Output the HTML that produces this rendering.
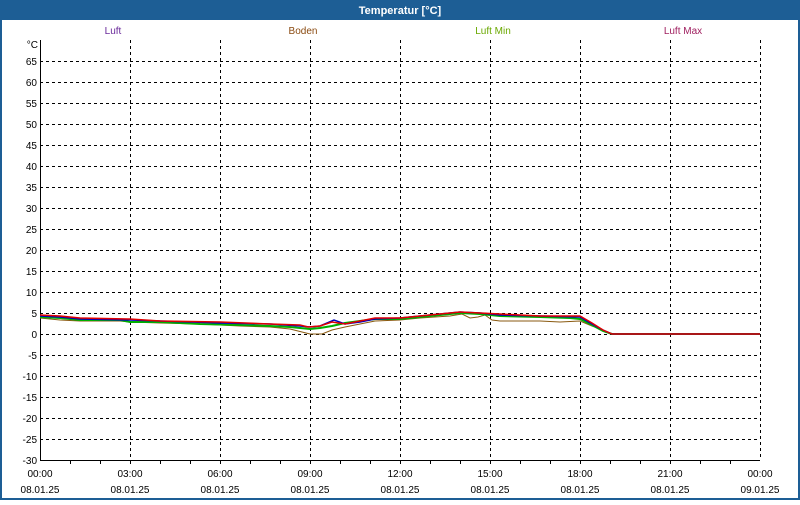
<!DOCTYPE html>
<html><head><meta charset="utf-8"><style>
body{margin:0;width:800px;height:500px;overflow:hidden;background:#fff;font-family:"Liberation Sans",sans-serif}
</style></head><body>
<svg width="800" height="500" xmlns="http://www.w3.org/2000/svg" font-family="Liberation Sans, sans-serif" font-size="10">
<rect x="0" y="0" width="800" height="500" fill="#1d5e95"/>
<rect x="2" y="20" width="796" height="478" fill="#fff"/>
<text x="400" y="14" fill="#fff" font-weight="bold" font-size="11" text-anchor="middle">Temperatur [°C]</text>
<text x="113" y="34" fill="#6a2a9a" text-anchor="middle">Luft</text>
<text x="303" y="34" fill="#8a4a10" text-anchor="middle">Boden</text>
<text x="493" y="34" fill="#6aa800" text-anchor="middle">Luft Min</text>
<text x="683" y="34" fill="#a02060" text-anchor="middle">Luft Max</text>
<g stroke="#000" stroke-dasharray="3,3" stroke-width="1">
<line x1="40" x2="760" y1="61.5" y2="61.5"/><line x1="40" x2="760" y1="82.5" y2="82.5"/><line x1="40" x2="760" y1="103.5" y2="103.5"/><line x1="40" x2="760" y1="124.5" y2="124.5"/><line x1="40" x2="760" y1="145.5" y2="145.5"/><line x1="40" x2="760" y1="166.5" y2="166.5"/><line x1="40" x2="760" y1="187.5" y2="187.5"/><line x1="40" x2="760" y1="208.5" y2="208.5"/><line x1="40" x2="760" y1="229.5" y2="229.5"/><line x1="40" x2="760" y1="250.5" y2="250.5"/><line x1="40" x2="760" y1="271.5" y2="271.5"/><line x1="40" x2="760" y1="292.5" y2="292.5"/><line x1="40" x2="760" y1="313.5" y2="313.5"/><line x1="40" x2="760" y1="334.5" y2="334.5"/><line x1="40" x2="760" y1="355.5" y2="355.5"/><line x1="40" x2="760" y1="376.5" y2="376.5"/><line x1="40" x2="760" y1="397.5" y2="397.5"/><line x1="40" x2="760" y1="418.5" y2="418.5"/><line x1="40" x2="760" y1="439.5" y2="439.5"/>
<line x1="130.5" x2="130.5" y1="40" y2="460"/><line x1="220.5" x2="220.5" y1="40" y2="460"/><line x1="310.5" x2="310.5" y1="40" y2="460"/><line x1="400.5" x2="400.5" y1="40" y2="460"/><line x1="490.5" x2="490.5" y1="40" y2="460"/><line x1="580.5" x2="580.5" y1="40" y2="460"/><line x1="670.5" x2="670.5" y1="40" y2="460"/><line x1="760.5" x2="760.5" y1="40" y2="460"/>
</g>
<polyline fill="none" stroke="#000" stroke-width="1" points="40.5,40 40.5,460.5 760,460.5"/>
<g stroke="#000">
<line x1="70.5" x2="70.5" y1="460" y2="464"/><line x1="100.5" x2="100.5" y1="460" y2="464"/><line x1="130.5" x2="130.5" y1="460" y2="464"/><line x1="160.5" x2="160.5" y1="460" y2="464"/><line x1="190.5" x2="190.5" y1="460" y2="464"/><line x1="220.5" x2="220.5" y1="460" y2="464"/><line x1="250.5" x2="250.5" y1="460" y2="464"/><line x1="280.5" x2="280.5" y1="460" y2="464"/><line x1="310.5" x2="310.5" y1="460" y2="464"/><line x1="340.5" x2="340.5" y1="460" y2="464"/><line x1="370.5" x2="370.5" y1="460" y2="464"/><line x1="400.5" x2="400.5" y1="460" y2="464"/><line x1="430.5" x2="430.5" y1="460" y2="464"/><line x1="460.5" x2="460.5" y1="460" y2="464"/><line x1="490.5" x2="490.5" y1="460" y2="464"/><line x1="520.5" x2="520.5" y1="460" y2="464"/><line x1="550.5" x2="550.5" y1="460" y2="464"/><line x1="580.5" x2="580.5" y1="460" y2="464"/><line x1="610.5" x2="610.5" y1="460" y2="464"/><line x1="640.5" x2="640.5" y1="460" y2="464"/><line x1="670.5" x2="670.5" y1="460" y2="464"/><line x1="700.5" x2="700.5" y1="460" y2="464"/><line x1="730.5" x2="730.5" y1="460" y2="464"/>
</g>
<g text-anchor="end" fill="#000">
<text x="38" y="48">°C</text>
<text x="37" y="65">65</text><text x="37" y="86">60</text><text x="37" y="107">55</text><text x="37" y="128">50</text><text x="37" y="149">45</text><text x="37" y="170">40</text><text x="37" y="191">35</text><text x="37" y="212">30</text><text x="37" y="233">25</text><text x="37" y="254">20</text><text x="37" y="275">15</text><text x="37" y="296">10</text><text x="37" y="317">5</text><text x="37" y="338">0</text><text x="37" y="359">-5</text><text x="37" y="380">-10</text><text x="37" y="401">-15</text><text x="37" y="422">-20</text><text x="37" y="443">-25</text><text x="37" y="464">-30</text>
</g>
<g text-anchor="middle" fill="#000">
<text x="40" y="477">00:00</text><text x="40" y="493">08.01.25</text>
<text x="130" y="477">03:00</text><text x="130" y="493">08.01.25</text>
<text x="220" y="477">06:00</text><text x="220" y="493">08.01.25</text>
<text x="310" y="477">09:00</text><text x="310" y="493">08.01.25</text>
<text x="400" y="477">12:00</text><text x="400" y="493">08.01.25</text>
<text x="490" y="477">15:00</text><text x="490" y="493">08.01.25</text>
<text x="580" y="477">18:00</text><text x="580" y="493">08.01.25</text>
<text x="670" y="477">21:00</text><text x="670" y="493">08.01.25</text>
<text x="760" y="477">00:00</text><text x="760" y="493">09.01.25</text>
</g>
<polyline fill="none" stroke="#8a5a10" stroke-width="1" points="40,318 60,320 80,321 120,321 130,322 160,323 200,324 240,326 270,327 290,329 310,334 322,334 332,330 345,327 360,324 375,321 400,320 420,318 450,316 462,314 470,318 478,317 485,315 492,320 500,321 540,321 560,322 580,321 592,326 603,330 612,334 760,334"/>
<polyline fill="none" stroke="#00b000" stroke-width="2" points="40,317 60,318 80,320 120,320 130,322 160,322 200,324 240,325 270,326 290,327 310,329 320,328 332,326 345,323 360,321 375,319 400,319 420,317 440,315 460,313 480,314 500,316 540,317 570,318 580,319 592,325 603,331 612,334 760,334"/>
<polyline fill="none" stroke="#0000c0" stroke-width="1.5" points="40,316 60,317 80,319 130,320 160,321 220,323 270,324 300,326 310,327 320,326 334,320 345,324 360,322 375,319 400,318 420,316 440,314 460,312 480,313 500,315 540,316 580,317 592,324 603,330 612,334 760,334"/>
<polyline fill="none" stroke="#e00000" stroke-width="1.5" points="40,315 60,316 80,318 130,319 160,321 220,322 270,324 300,325 308,327 320,326 332,322 345,324 360,321 375,318 400,318 420,316 440,314 460,312 480,313 500,314 540,316 580,316 592,323 603,330 612,334 760,334"/>
</svg>
</body></html>
